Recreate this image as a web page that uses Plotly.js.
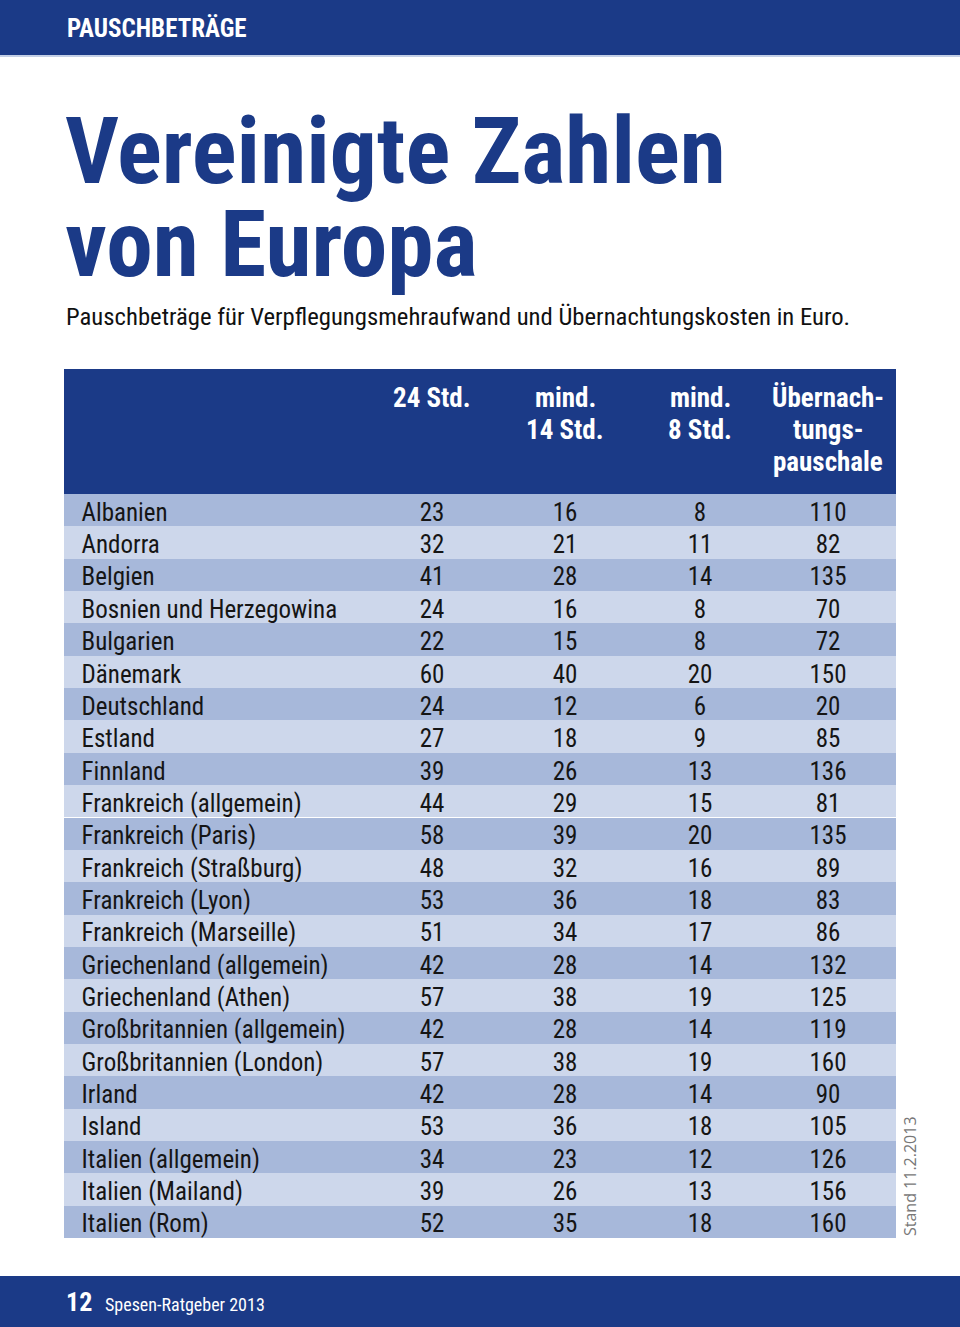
<!DOCTYPE html>
<html>
<head>
<meta charset="utf-8">
<script src="https://cdn.plot.ly/plotly-3.0.1.min.js"></script>
<style>html,body{margin:0;padding:0;background:#fff;}#chart{width:960px;height:1327px;}</style>
</head>
<body>
<div id="chart"></div>
<script>
var countries = ["Albanien","Andorra","Belgien","Bosnien und Herzegowina","Bulgarien","Dänemark","Deutschland","Estland","Finnland","Frankreich (allgemein)","Frankreich (Paris)","Frankreich (Straßburg)","Frankreich (Lyon)","Frankreich (Marseille)","Griechenland (allgemein)","Griechenland (Athen)","Großbritannien (allgemein)","Großbritannien (London)","Irland","Island","Italien (allgemein)","Italien (Mailand)","Italien (Rom)"];
var std24 = [23,32,41,24,22,60,24,27,39,44,58,48,53,51,42,57,42,57,42,53,34,39,52];
var std14 = [16,21,28,16,15,40,12,18,26,29,39,32,36,34,28,38,28,38,28,36,23,26,35];
var std8  = [8,11,14,8,8,20,6,9,13,15,20,16,18,17,14,19,14,19,14,18,12,13,18];
var hotel = [110,82,135,70,72,150,20,85,136,81,135,89,83,86,132,125,119,160,90,105,126,156,160];
var headers = ["", "24 Std.", "mind.<br>14 Std.", "mind.<br>8 Std.", "Übernach-<br>tungs-<br>pauschale"];

var W = 960, H = 1327;
function px(x){ return x / W; }
function py(y){ return 1 - y / H; }

var NAVY = "#1b3a87";
var DARK = "#a7b8da", LIGHT = "#cdd7eb";
var rowColors = countries.map(function(_, i){ return i % 2 === 0 ? DARK : LIGHT; });
var cond = "Roboto Condensed, sans-serif";

var colWidths = [310, 116, 150, 120, 136];
var tableLeft = 64, tableRight = 896;
var totalW = colWidths.reduce(function(a, b){ return a + b; }, 0);

var trace = {
  type: "table",
  domain: {x: [px(tableLeft), px(tableRight)], y: [py(1239), py(369)]},
  columnwidth: colWidths,
  header: {
    values: headers.map(function(){ return ""; }),
    height: 125,
    align: "center",
    fill: {color: NAVY},
    line: {width: 0, color: NAVY},
    font: {family: cond, size: 26, color: "#ffffff"}
  },
  cells: {
    values: [countries.map(function(c){ return "\u2009\u2009" + c; }), std24, std14, std8, hotel],
    height: 32.35,
    align: ["left", "center", "center", "center", "center"],
    fill: {color: [rowColors, rowColors, rowColors, rowColors, rowColors]},
    line: {width: 0, color: LIGHT},
    font: {family: cond, size: 25, color: "#151515"}
  }
};

var annotations = [
  {text: "PAUSCHBETRÄGE", x: px(65), y: py(29), xanchor: "left", yanchor: "middle",
   font: {family: cond, size: 25, color: "#ffffff", weight: "bold"}},
  {text: "Vereinigte Zahlen", x: px(63), y: py(151), xanchor: "left", yanchor: "middle",
   font: {family: cond, size: 93.5, color: NAVY, weight: "bold"}},
  {text: "von Europa", x: px(63), y: py(244), xanchor: "left", yanchor: "middle",
   font: {family: cond, size: 93.5, color: NAVY, weight: "bold"}},
  {text: "Pauschbeträge für Verpflegungsmehraufwand und Übernachtungskosten in Euro.", x: px(64), y: py(316), xanchor: "left", yanchor: "middle",
   font: {family: cond, size: 24.7, color: "#111111"}},
  {text: "Stand 11.2.2013", x: px(910), y: py(1176), xanchor: "center", yanchor: "middle", textangle: -90,
   font: {family: "Open Sans, sans-serif", size: 16, color: "#777777"}},
  {text: "<b>12</b>", x: px(64), y: py(1302), xanchor: "left", yanchor: "middle",
   font: {family: cond, size: 26, color: "#ffffff"}},
  {text: "Spesen-Ratgeber 2013", x: px(103), y: py(1304), xanchor: "left", yanchor: "middle",
   font: {family: cond, size: 18, color: "#ffffff"}}
];

// header labels, centred on each column, one annotation per line
var cum = tableLeft;
headers.forEach(function(h, i){
  var w = colWidths[i] / totalW * (tableRight - tableLeft);
  if (h) {
    h.split("<br>").forEach(function(line, k){
      annotations.push({text: line, x: px(cum + w / 2), y: py(398 + 32 * k), xanchor: "center", yanchor: "middle",
        font: {family: cond, size: 27, color: "#ffffff", weight: "bold"}});
    });
  }
  cum += w;
});
annotations.forEach(function(a){ a.xref = "paper"; a.yref = "paper"; a.showarrow = false; });

var layout = {
  width: W, height: H,
  margin: {l: 0, r: 0, t: 0, b: 0},
  paper_bgcolor: "#ffffff",
  showlegend: false,
  shapes: [
    {type: "rect", xref: "paper", yref: "paper", x0: 0, x1: 1, y0: py(55), y1: 1, fillcolor: NAVY, line: {width: 0}},
    {type: "rect", xref: "paper", yref: "paper", x0: 0, x1: 1, y0: py(57), y1: py(55), fillcolor: "#c3cfe6", line: {width: 0}},
    {type: "rect", xref: "paper", yref: "paper", x0: 0, x1: 1, y0: 0, y1: py(1276), fillcolor: NAVY, line: {width: 0}}
  ],
  annotations: annotations
};

Plotly.newPlot("chart", [trace], layout, {displayModeBar: false, staticPlot: true});
</script>
</body>
</html>
